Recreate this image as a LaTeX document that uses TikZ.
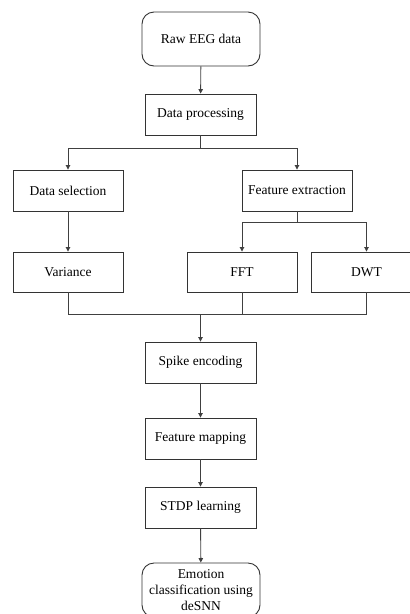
\documentclass[tikz,border=0pt]{standalone}
\usepackage{fontspec}
\setmainfont{Liberation Serif}
\usetikzlibrary{arrows.meta}
\begin{document}
\begin{tikzpicture}[x=1pt,y=-1pt,
  every node/.style={font=\fontsize{13.5}{16}\selectfont, text=black},
  box/.style={draw=black!80, line width=0.9pt, minimum width=111pt, minimum height=41pt, inner sep=0pt, align=center},
  term/.style={box, rounded corners=12pt, minimum width=118pt, minimum height=54pt},
  line/.style={draw=black!75, line width=0.9pt},
  arr/.style={line, -{Stealth[length=4.5pt,width=4.5pt,inset=0pt]}}]
\useasboundingbox (0,0) rectangle (410,614);
\node[term] (raw) at (201,39) {Raw EEG data};
\node[box] (proc) at (200.5,114.5) {Data processing};
\node[box, minimum width=110pt] (sel) at (68,190.5) {Data selection};
\node[box, minimum width=110pt] (fext) at (297,190.5) {Feature extraction};
\node[box, minimum width=110pt, minimum height=40pt] (var) at (68,272) {Variance};
\node[box, minimum width=110pt, minimum height=40pt] (fft) at (242,272) {FFT};
\node[box, minimum width=110pt, minimum height=40pt] (dwt) at (366.5,272) {DWT};
\node[box] (spike) at (200.5,362.5) {Spike encoding};
\node[box] (map) at (200.5,438.5) {Feature mapping};
\node[box] (stdp) at (200.5,507.5) {STDP learning};
\node[term] (emo) at (201,590) {Emotion\\classification using\\deSNN};
\draw[arr] (raw) -- (proc);
\draw[arr] (proc.south) -- ++(0,13) -| (sel.north);
\draw[arr] (proc.south) -- ++(0,13) -| (fext.north);
\draw[arr] (sel) -- (var);
\draw[arr] (fext.south) -- ++(0,11) -| (fft.north);
\draw[arr] (fext.south) -- ++(0,11) -| (dwt.north);
\path (spike.north) ++(0,-27) coordinate (bus);
\draw[line] (var.south) |- (bus);
\draw[line] (fft.south) |- (bus);
\draw[line] (dwt.south) |- (bus);
\draw[arr] (bus) -- (spike.north);
\draw[arr] (spike) -- (map);
\draw[arr] (map) -- (stdp);
\draw[arr] (stdp) -- (emo);
\end{tikzpicture}
\end{document}
